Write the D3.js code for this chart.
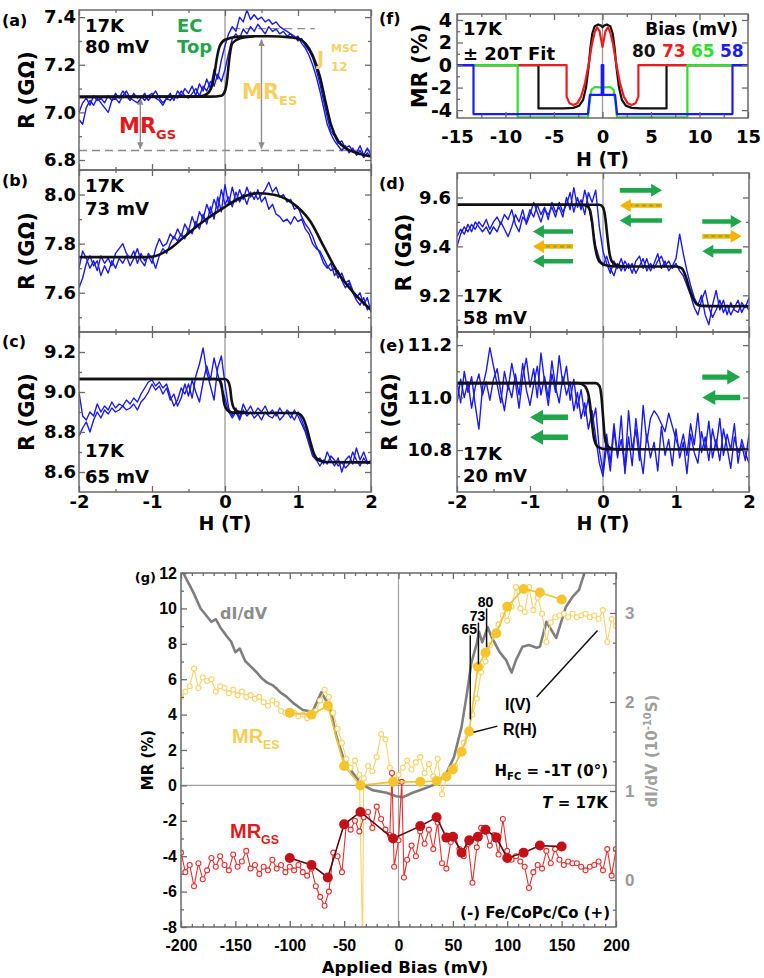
<!DOCTYPE html>
<html><head><meta charset="utf-8">
<script src="https://cdn.jsdelivr.net/npm/d3@7/dist/d3.min.js"></script>
<style>html,body{margin:0;padding:0;background:#fff;} svg{display:block}</style>
</head><body>
<script>
// ================= DATA =================
// field grid for R(H) sweeps (T)
const hGrid = d3.range(81).map(i => +(-2 + i * 0.05).toFixed(2));
const hTicks = [-2, -1, 0, 1, 2];
const hMinor = [-1.5, -0.5, 0.5, 1.5];

// (a) 17K 80 mV
const rA1 = [6.97,6.95,7.02,7.05,7.03,7.06,7.04,7.02,7.00,7.05,
 7.08,7.06,7.09,7.07,7.05,7.08,7.06,7.07,7.05,7.07,
 7.08,7.06,7.05,7.03,7.06,7.08,7.05,7.09,7.07,7.10,
 7.08,7.11,7.07,7.12,7.09,7.14,7.10,7.18,7.14,7.22,
 7.28,7.33,7.36,7.34,7.40,7.38,7.43,7.39,7.41,7.39,
 7.40,7.38,7.39,7.37,7.38,7.36,7.35,7.34,7.33,7.32,
 7.30,7.31,7.28,7.26,7.23,7.18,7.12,7.05,6.98,6.92,
 6.90,6.87,6.88,6.85,6.86,6.84,6.83,6.86,6.82,6.85,
 6.82];
const rA2 = [7.00,7.04,7.06,7.03,7.07,7.05,7.06,7.04,7.07,7.05,
 7.06,7.04,7.07,7.09,7.06,7.05,7.04,7.06,7.08,7.05,
 7.07,7.09,7.06,7.04,7.06,7.05,7.07,7.06,7.09,7.07,
 7.06,7.08,7.10,7.07,7.11,7.09,7.13,7.11,7.16,7.13,
 7.18,7.25,7.31,7.33,7.31,7.35,7.33,7.36,7.34,7.37,
 7.35,7.33,7.36,7.34,7.35,7.33,7.34,7.32,7.33,7.31,
 7.32,7.29,7.27,7.24,7.20,7.15,7.09,7.02,6.95,6.91,
 6.88,6.86,6.84,6.86,6.83,6.85,6.82,6.84,6.81,6.83,
 6.81];
const fitA1 = [[-2,7.065],[-0.5,7.066],[-0.3,7.07],[-0.22,7.085],[-0.17,7.12],[-0.14,7.17],[-0.11,7.23],[-0.07,7.28],[0.0,7.305],[0.2,7.318],[0.6,7.32],[0.9,7.315],[1.0,7.31],[1.1,7.29],[1.2,7.24],[1.3,7.15],[1.38,7.04],[1.45,6.95],[1.55,6.88],[1.65,6.85],[1.8,6.83],[2.0,6.815]];
const fitA2 = [[-2,7.065],[-0.2,7.066],[-0.05,7.07],[0.0,7.09],[0.03,7.14],[0.05,7.2],[0.07,7.25],[0.1,7.29],[0.2,7.31],[0.4,7.32]];

// (b) 17K 73 mV
const rB1 = [7.70,7.77,7.74,7.70,7.73,7.69,7.75,7.72,7.74,7.71,
 7.76,7.78,7.80,7.76,7.74,7.77,7.72,7.76,7.73,7.75,
 7.72,7.78,7.82,7.79,7.80,7.84,7.82,7.86,7.83,7.88,
 7.85,7.91,7.87,7.93,7.90,7.96,7.92,7.98,7.94,8.02,
 7.96,7.99,7.95,8.01,7.97,8.00,7.96,8.01,7.98,8.02,
 7.97,7.99,7.94,7.96,7.92,7.91,7.89,7.90,7.88,7.91,
 7.89,7.90,7.86,7.84,7.80,7.78,7.77,7.74,7.71,7.69,
 7.70,7.66,7.68,7.64,7.65,7.61,7.58,7.60,7.55,7.58,
 7.52];
const rB2 = [7.62,7.66,7.72,7.75,7.71,7.73,7.67,7.71,7.68,7.73,
 7.70,7.74,7.72,7.75,7.71,7.74,7.78,7.73,7.71,7.76,
 7.74,7.70,7.75,7.78,7.76,7.80,7.83,7.81,7.84,7.82,
 7.86,7.84,7.89,7.86,7.92,7.88,7.95,7.90,7.99,7.93,
 8.04,7.96,8.03,7.97,8.02,7.98,8.03,7.99,8.01,7.98,
 8.00,8.02,8.05,8.01,8.03,7.99,8.00,7.97,7.98,7.94,
 7.95,7.91,7.88,7.86,7.83,7.79,7.76,7.72,7.70,7.72,
 7.67,7.69,7.65,7.62,7.64,7.60,7.57,7.55,7.58,7.53,
 7.55];
const fitB = [[-2,7.745],[-1.1,7.745],[-0.95,7.75],[-0.75,7.78],[-0.55,7.83],[-0.3,7.89],[0,7.95],[0.2,7.985],[0.44,8.005],[0.65,8.0],[0.9,7.97],[1.17,7.89],[1.35,7.79],[1.53,7.69],[1.76,7.6],[2.0,7.53]];

// (c) 17K 65 mV
const rC1 = [9.00,8.88,8.86,8.90,8.88,8.94,8.90,8.93,8.91,8.95,
 8.92,8.94,8.93,8.96,8.94,8.97,8.95,8.99,9.02,9.05,
 9.06,9.03,9.05,9.02,9.04,8.98,8.93,8.96,9.02,8.99,
 9.04,8.97,9.08,9.14,9.22,9.10,9.03,8.96,9.12,9.18,
 9.04,8.92,8.88,8.92,8.87,8.94,8.90,8.93,8.89,8.92,
 8.90,8.93,8.89,8.91,8.88,8.92,8.89,8.90,8.87,8.91,
 8.88,8.84,8.80,8.74,8.68,8.66,8.67,8.64,8.70,8.66,
 8.63,8.67,8.60,8.66,8.68,8.64,8.72,8.66,8.70,8.65,
 8.64];
const rC2 = [8.78,8.82,8.85,8.80,8.86,8.90,8.87,8.91,8.89,8.92,
 8.90,8.91,8.93,8.91,8.92,8.94,8.91,8.95,8.97,9.00,
 9.04,9.01,9.03,8.99,9.02,8.96,8.99,8.93,8.97,9.04,
 8.98,9.06,9.00,8.95,9.05,9.13,9.06,9.17,9.09,9.02,
 8.97,8.90,8.87,8.90,8.86,8.91,8.88,8.90,8.87,8.89,
 8.86,8.90,8.88,8.87,8.90,8.86,8.88,8.91,8.89,8.86,
 8.90,8.86,8.81,8.76,8.70,8.66,8.63,8.66,8.64,8.68,
 8.66,8.63,8.65,8.62,8.64,8.70,8.66,8.63,8.67,8.64,
 8.66];
const fitC1 = [[-2,9.065],[-0.15,9.065],[-0.08,9.06],[-0.05,9.04],[-0.03,8.99],[-0.01,8.94],[0.03,8.91],[0.1,8.897],[0.3,8.895],[0.95,8.895],[1.02,8.89],[1.07,8.87],[1.12,8.82],[1.17,8.75],[1.22,8.69],[1.28,8.66],[1.38,8.65],[2,8.648]];
const fitC2 = [[-2,9.065],[0.0,9.065],[0.04,9.055],[0.07,9.02],[0.09,8.96],[0.12,8.92],[0.17,8.903],[0.3,8.896]];

// (d) 17K 58 mV
const rD1 = [9.40,9.45,9.48,9.46,9.49,9.47,9.50,9.48,9.51,9.47,
 9.50,9.52,9.49,9.53,9.51,9.55,9.49,9.46,9.52,9.50,
 9.55,9.52,9.57,9.53,9.56,9.51,9.58,9.54,9.56,9.52,
 9.60,9.55,9.64,9.56,9.59,9.53,9.62,9.58,9.63,9.48,
 9.38,9.33,9.29,9.34,9.31,9.35,9.30,9.33,9.29,9.34,
 9.36,9.31,9.35,9.30,9.33,9.37,9.31,9.34,9.30,9.32,
 9.35,9.45,9.37,9.30,9.24,9.19,9.16,9.20,9.12,9.08,
 9.16,9.22,9.14,9.18,9.12,9.17,9.14,9.13,9.17,9.15,
 9.19];
const rD2 = [9.44,9.47,9.45,9.49,9.46,9.50,9.48,9.46,9.48,9.45,
 9.48,9.46,9.50,9.47,9.44,9.48,9.53,9.50,9.55,9.49,
 9.53,9.58,9.54,9.50,9.55,9.53,9.56,9.52,9.58,9.54,
 9.57,9.62,9.54,9.60,9.55,9.63,9.57,9.49,9.40,9.35,
 9.32,9.36,9.31,9.28,9.33,9.30,9.34,9.31,9.33,9.29,
 9.32,9.35,9.30,9.33,9.31,9.34,9.36,9.32,9.34,9.31,
 9.33,9.30,9.28,9.24,9.20,9.15,9.12,9.18,9.22,9.15,
 9.11,9.14,9.18,9.13,9.16,9.12,9.15,9.18,9.13,9.16,
 9.14];
const fitD1 = [[-2,9.57],[-0.3,9.57],[-0.22,9.565],[-0.18,9.55],[-0.15,9.5],[-0.12,9.42],[-0.09,9.37],[-0.04,9.335],[0.05,9.322],[0.2,9.318],[1.0,9.318],[1.08,9.31],[1.13,9.28],[1.18,9.23],[1.23,9.19],[1.28,9.165],[1.35,9.157],[2,9.155]];
const fitD2 = [[-2,9.57],[-0.05,9.57],[0.0,9.56],[0.03,9.52],[0.06,9.44],[0.09,9.37],[0.13,9.335],[0.2,9.322],[0.3,9.318]];

// (e) 17K 20 mV
const rE1 = [11.06,10.98,11.10,11.02,11.08,10.97,10.88,11.04,11.10,11.19,
 11.12,11.05,10.98,11.10,11.03,11.13,11.06,10.96,11.08,11.15,
 11.04,11.11,11.00,11.17,11.06,10.97,11.09,11.02,11.16,11.05,
 11.12,10.99,11.07,10.96,11.03,10.93,11.00,10.90,10.96,10.80,
 10.72,10.86,10.75,10.90,10.78,10.84,10.73,10.95,10.80,10.88,
 10.76,10.97,10.83,10.92,10.95,10.93,10.90,10.87,10.94,10.89,
 10.84,10.80,10.86,10.78,10.90,10.82,10.94,10.79,10.85,10.76,
 10.88,10.81,10.92,10.78,10.86,10.80,10.90,10.75,10.84,10.79,
 10.75];
const rE2 = [10.98,11.07,11.00,11.06,10.96,11.04,11.09,11.01,11.06,10.99,
 11.07,11.11,11.02,10.95,11.05,11.00,11.09,11.01,11.13,11.03,
 10.97,11.05,11.12,11.01,11.08,11.00,11.14,11.04,10.98,11.08,
 11.01,11.06,10.95,11.02,10.92,10.98,10.88,10.95,10.85,10.75,
 10.70,10.82,10.72,10.88,10.77,10.93,10.71,10.85,10.74,10.92,
 10.80,10.71,10.86,10.77,10.83,10.72,10.89,10.78,10.84,10.74,
 10.88,10.77,10.83,10.71,10.86,10.79,10.75,10.87,10.80,10.91,
 10.77,10.84,10.76,10.88,10.81,10.73,10.85,10.79,10.82,10.76,
 10.86];
const fitE1 = [[-2,11.055],[-0.35,11.055],[-0.28,11.05],[-0.22,11.03],[-0.18,10.98],[-0.15,10.9],[-0.12,10.84],[-0.07,10.812],[0.05,10.803],[2,10.802]];
const fitE2 = [[-2,11.055],[-0.1,11.055],[-0.05,11.045],[-0.02,11.0],[0.0,10.93],[0.02,10.86],[0.05,10.82],[0.12,10.805],[0.3,10.802]];

// (f) MR fits vs H (T) for biases 80, 73, 65, 58 mV
const fBias = ["80", "73", "65", "58"];
const fColors = ["#111111", "#ee1c1c", "#2ee02e", "#1a1aff"];
const mrFit80 = [[-15,0],[-6.6,0],[-6.6,-3.85],[-4,-3.85],[-3,-3.8],[-2.4,-3.6],[-2.0,-3.1],[-1.7,-2.0],[-1.45,-0.3],[-1.25,1.5],[-1.05,2.8],[-0.8,3.45],[-0.45,3.6],[-0.15,3.5],[0,3.35],[0.15,3.5],[0.45,3.6],[0.8,3.45],[1.05,2.8],[1.25,1.5],[1.45,-0.3],[1.7,-2.0],[2.0,-3.1],[2.4,-3.6],[3,-3.8],[4,-3.85],[6.6,-3.85],[6.6,0],[15,0]];
const mrFit73 = [[-15,0],[-3.7,0],[-3.7,-2.8],[-3.4,-3.4],[-3.0,-3.55],[-2.6,-3.4],[-2.2,-2.8],[-1.8,-1.6],[-1.4,0.2],[-1.1,1.8],[-0.8,2.9],[-0.55,3.35],[-0.3,3.0],[0,1.6],[0.3,3.0],[0.55,3.35],[0.8,2.9],[1.1,1.8],[1.4,0.2],[1.8,-1.6],[2.2,-2.8],[2.6,-3.4],[3.0,-3.55],[3.4,-3.4],[3.7,-2.8],[3.7,0],[15,0]];
const mrFit65 = [[-15,0],[-8.75,0],[-8.75,-4.65],[-1.5,-4.65],[-1.35,-3.5],[-1.15,-2.2],[-0.8,-1.95],[0,-2.0],[0.8,-1.95],[1.15,-2.2],[1.35,-3.5],[1.5,-4.65],[8.75,-4.65],[8.75,0],[15,0]];
const mrFit58 = [[-15,0],[-13.3,0],[-13.3,-4.35],[-1.5,-4.35],[-1.3,-2.65],[-0.08,-2.65],[-0.08,0],[0.08,0],[0.08,-2.65],[1.3,-2.65],[1.5,-4.35],[13.4,-4.35],[13.4,0],[15,0]];
const fXTicks = [-15,-10,-5,0,5,10,15];
const fXMinor = [-12.5,-7.5,-2.5,2.5,7.5,12.5];
const fYTicks = [-4,-2,0,2,4];
const fYMinor = [-3,-1,1,3];

// (g) MR vs applied bias (mV)
const biasTicks = [-200,-150,-100,-50,0,50,100,150,200];
const biasMinor = d3.range(-190, 200, 10).filter(v => v % 50 !== 0);
const mrTicks = [-8,-6,-4,-2,0,2,4,6,8,10,12];
const mrMinor = [-7,-5,-3,-1,1,3,5,7,9,11];
const didvTicks = [0,1,2,3];
const didvMinor = [-1/3,1/3,2/3,4/3,5/3,7/3,8/3,10/3];
const didv = [[-200,3.50],[-195,3.38],[-189,3.24],[-182,3.05],[-176,2.96],[-172,2.90],[-168,2.93],[-164,2.84],[-158,2.74],[-154,2.68],[-150,2.56],[-146,2.60],[-141,2.46],[-136,2.40],[-131,2.34],[-126,2.27],[-121,2.22],[-116,2.19],[-112,2.15],[-109,2.11],[-103,2.06],[-97,1.99],[-88,1.91],[-79,1.89],[-71,2.11],[-63,1.94],[-57,1.61],[-51,1.38],[-42,1.20],[-33,1.07],[-24,1.01],[-11,0.98],[-2,0.94],[4,0.93],[13,0.98],[22,1.02],[35,1.08],[44,1.20],[51,1.38],[58,1.72],[63,2.10],[67,2.44],[72,2.66],[74,2.79],[77,2.67],[82,2.84],[86,2.72],[93,2.56],[99,2.47],[104,2.33],[108,2.47],[114,2.62],[120,2.64],[127,2.61],[130,2.62],[136,2.90],[145,2.72],[154,3.07],[160,3.18],[166,3.26],[171,3.45],[176,3.65]];
const esOpen = [[-200,5.0],[-196,5.3],[-192,5.6],[-188,6.6],[-184,5.5],[-180,6.1],[-176,5.9],[-172,6.0],[-168,5.3],[-164,5.6],[-160,5.5],[-156,5.2],[-152,5.4],[-148,5.1],[-144,5.3],[-140,5.0],[-136,5.1],[-132,4.9],[-128,5.0],[-124,4.7],[-120,4.5],[-116,4.8],[-112,4.6],[-108,4.2],[-104,4.1],[-100,4.0],[-96,4.1],[-92,3.9],[-88,4.0],[-84,3.8],[-80,4.0],[-76,4.2],[-72,4.8],[-68,5.4],[-64,5.0],[-60,4.1],[-56,3.2],[-52,2.4],[-48,1.5],[-44,1.0],[-40,1.4],[-36,0.6],[-33,-9],[-32,0.4],[-28,1.1],[-24,0.8],[-20,1.6],[-16,2.9],[-12,2.6],[-8,1.0],[-4,0.2],[0,0.6],[4,1.0],[8,1.4],[12,0.9],[16,1.3],[20,1.6],[24,0.7],[28,1.2],[32,0.5],[36,1.5],[40,-0.5],[44,0.4],[48,0.9],[52,1.1],[56,1.8],[60,2.4],[64,3.1],[68,4.0],[72,4.9],[76,6.4],[80,7.0],[84,7.9],[88,8.5],[92,9.1],[96,9.6],[100,9.3],[104,10.1],[108,11.2],[112,10.0],[116,9.8],[120,11.2],[124,9.9],[128,10.6],[132,9.7],[136,8.1],[140,9.2],[144,9.5],[148,9.6],[152,9.7],[156,9.5],[160,9.7],[164,9.5],[168,9.6],[172,9.7],[176,9.5],[180,9.6],[184,9.4],[188,9.9],[192,8.1],[196,9.4],[200,9.0]];
const gsOpen = [[-200,-3.8],[-196,-4.9],[-192,-4.5],[-188,-5.7],[-184,-4.4],[-180,-5.3],[-176,-4.8],[-172,-4.1],[-168,-4.6],[-164,-4.0],[-160,-4.5],[-156,-4.8],[-152,-3.9],[-148,-4.6],[-144,-4.3],[-140,-3.7],[-136,-4.7],[-132,-4.5],[-128,-5.0],[-124,-4.6],[-120,-4.8],[-116,-4.2],[-112,-4.7],[-108,-4.5],[-104,-4.9],[-100,-4.6],[-96,-4.8],[-92,-4.5],[-88,-4.9],[-84,-5.1],[-80,-4.7],[-76,-5.7],[-72,-6.3],[-68,-6.8],[-64,-6.0],[-60,-3.8],[-56,-4.0],[-52,-4.9],[-48,-2.2],[-44,-2.5],[-40,-2.0],[-36,-2.6],[-32,-1.8],[-28,-1.5],[-24,-2.4],[-20,-1.2],[-16,-1.9],[-12,-2.5],[-8,-2.8],[-6,0.7],[-4,-4.6],[0,-3.1],[3,0.2],[5,-5.2],[8,-4.2],[12,-3.4],[16,-4.0],[20,-2.6],[24,-3.3],[28,-2.5],[32,-3.6],[36,-2.1],[40,-4.4],[44,-4.7],[48,-3.2],[52,-2.9],[56,-3.6],[60,-4.0],[64,-3.3],[68,-5.5],[72,-3.5],[76,-2.4],[80,-2.6],[84,-3.4],[88,-2.8],[92,-3.9],[96,-1.9],[100,-3.7],[104,-4.2],[108,-4.0],[112,-4.3],[116,-4.6],[120,-5.8],[124,-4.9],[128,-4.5],[132,-4.7],[136,-3.7],[140,-4.4],[144,-3.6],[148,-4.2],[152,-4.5],[156,-4.3],[160,-4.4],[164,-4.4],[168,-4.6],[172,-4.8],[176,-4.6],[180,-4.5],[184,-4.3],[188,-4.8],[192,-3.6],[196,-5.1],[200,-3.6]];
const rhBias = [-100,-80,-65,-50,-35,-5,20,35,44,50,58,65,73,80,90,100,115,130,150];
const esFilled = [4.1,4.0,4.5,1.1,0.0,0.2,0.2,0.25,0.5,0.9,1.9,3.05,6.7,7.5,8.6,10.1,11.1,10.9,10.5];
const gsFilled = [-4.1,-4.5,-5.2,-2.2,-1.5,-3.0,-2.3,-1.8,-2.95,-2.9,-3.8,-3.1,-2.9,-2.5,-2.95,-4.1,-3.8,-3.4,-3.45];

// ================= DRAWING =================
const FD = '"DejaVu Sans", Verdana, sans-serif';
const FL = '"Liberation Sans", Arial, sans-serif';
const AXC = '#6a6a6a';
const BLUE = '#1b1bef';
const GREEN = '#1fa64a';
const ORANGE = '#f6b400';
const YEL = '#f5d163';
const RED = '#e3191c';
const svg = d3.select('body').append('svg').attr('width', 764).attr('height', 978);
const defs = svg.append('defs');
defs.append('marker').attr('id', 'ah').attr('viewBox', '0 0 10 10').attr('refX', 9).attr('refY', 5)
  .attr('markerWidth', 5).attr('markerHeight', 5).attr('orient', 'auto-start-reverse')
  .append('path').attr('d', 'M0,0.5L10,5L0,9.5Z').attr('fill', '#8c8c8c');

function styleAxis(sel, fs, ff, fill) {
  sel.attr('font-size', null).attr('font-family', null);
  sel.select('.domain').remove();
  sel.selectAll('.tick line').attr('stroke', AXC).attr('stroke-width', 1.3);
  sel.selectAll('.tick text').attr('font-size', fs).attr('font-family', ff)
     .attr('font-weight', 'bold').attr('fill', fill || '#000');
}
function txt(g, x, y, s, o = {}) {
  const t = g.append('text').attr('x', x).attr('y', y)
    .attr('font-family', o.ff || FD).attr('font-weight', 'bold')
    .attr('font-size', o.fs || 18).attr('fill', o.fill || '#000');
  if (o.anchor) t.attr('text-anchor', o.anchor);
  if (s !== null) t.text(s);
  return t;
}
function mrLabel(g, x, y, sub, fill, fs, ff) {
  const t = txt(g, x, y, 'MR', { fill, fs, ff });
  t.append('tspan').attr('dy', fs * 0.28).attr('font-size', fs * 0.62).text(sub);
}
function clip(id, x0, y0, x1, y1) {
  defs.append('clipPath').attr('id', id).append('rect')
    .attr('x', x0).attr('y', y0).attr('width', x1 - x0).attr('height', y1 - y0);
  return `url(#${id})`;
}
function harrow(g, xT, xH, y, color, dashed, big) {
  const dir = Math.sign(xH - xT);
  const hl = big ? 13 : 11, hw = big ? 7.5 : 6.5, sw = big ? 2.7 : 2.3;
  const xb = xH - dir * hl;
  g.append('path').attr('d',
    `M${xT},${y - sw}L${xb},${y - sw}L${xb},${y - hw}L${xH},${y}L${xb},${y + hw}L${xb},${y + sw}L${xT},${y + sw}Z`)
    .attr('fill', color);
  if (dashed) g.append('line').attr('x1', xT + dir * 2).attr('x2', xb).attr('y1', y).attr('y2', y)
    .attr('stroke', '#7fae3a').attr('stroke-width', 2).attr('stroke-dasharray', '4,3');
}

function rPanel(p) {
  const x = d3.scaleLinear().domain([-2, 2]).range([p.x0, p.x1]);
  const y = d3.scaleLinear().domain(p.yDom).range([p.y1, p.y0]);
  const g = svg.append('g');
  g.append('line').attr('x1', x(0)).attr('x2', x(0)).attr('y1', p.y0).attr('y2', p.y1)
    .attr('stroke', '#9a9a9a').attr('stroke-width', 1.3);
  const dg = g.append('g').attr('clip-path', clip('clip-' + p.id, p.x0, p.y0, p.x1, p.y1));
  if (p.under) p.under(dg, x, y);
  const sl = d3.line().x((d, i) => x(hGrid[i])).y(d => y(d));
  p.sweeps.forEach(s => dg.append('path').attr('d', sl(s)).attr('fill', 'none')
    .attr('stroke', BLUE).attr('stroke-width', 1.4).attr('stroke-linejoin', 'round'));
  const fl = d3.line().x(d => x(d[0])).y(d => y(d[1])).curve(d3.curveMonotoneX);
  p.fits.forEach(f => dg.append('path').attr('d', fl(f)).attr('fill', 'none')
    .attr('stroke', '#111').attr('stroke-width', 2.6));
  // axes (ticks inward)
  g.append('g').attr('transform', `translate(${p.x0},0)`)
    .call(d3.axisLeft(y).tickValues(p.yTicks).tickFormat(d => d.toFixed(1)).tickSize(-6).tickPadding(p.pad))
    .call(s => styleAxis(s, 18, FD));
  g.append('g').attr('transform', `translate(${p.x0},0)`)
    .call(d3.axisLeft(y).tickValues(p.yMinor).tickFormat('').tickSize(-3)).call(s => styleAxis(s, 18, FD));
  g.append('g').attr('transform', `translate(${p.x1},0)`)
    .call(d3.axisRight(y).tickValues(p.yTicks).tickFormat('').tickSize(-6)).call(s => styleAxis(s, 18, FD));
  g.append('g').attr('transform', `translate(${p.x1},0)`)
    .call(d3.axisRight(y).tickValues(p.yMinor).tickFormat('').tickSize(-3)).call(s => styleAxis(s, 18, FD));
  g.append('g').attr('transform', `translate(0,${p.y1})`)
    .call(d3.axisBottom(x).tickValues(hTicks).tickFormat(p.xLab ? (d => String(d)) : '').tickSize(-6).tickPadding(3))
    .call(s => styleAxis(s, 18, FD));
  g.append('g').attr('transform', `translate(0,${p.y1})`)
    .call(d3.axisBottom(x).tickValues(hMinor).tickFormat('').tickSize(-3)).call(s => styleAxis(s, 18, FD));
  g.append('g').attr('transform', `translate(0,${p.y0})`)
    .call(d3.axisTop(x).tickValues(hTicks).tickFormat('').tickSize(-6)).call(s => styleAxis(s, 18, FD));
  g.append('g').attr('transform', `translate(0,${p.y0})`)
    .call(d3.axisTop(x).tickValues(hMinor).tickFormat('').tickSize(-3)).call(s => styleAxis(s, 18, FD));
  g.append('rect').attr('x', p.x0).attr('y', p.y0).attr('width', p.x1 - p.x0).attr('height', p.y1 - p.y0)
    .attr('fill', 'none').attr('stroke', AXC).attr('stroke-width', 1.5);
  // labels
  const my = (p.y0 + p.y1) / 2;
  txt(g, 0, 0, 'R (GΩ)', { fs: 21 }).attr('text-anchor', 'middle')
    .attr('transform', `translate(${p.titleX},${my}) rotate(-90)`);
  txt(g, p.labX, p.labY, `(${p.id})`, { fs: 16 });
  txt(g, p.tx, p.t1y, '17K', { fs: 18 });
  txt(g, p.tx, p.t2y, p.bias, { fs: 18 });
  if (p.xLab) txt(g, (p.x0 + p.x1) / 2, 530, 'H (T)', { fs: 19, anchor: 'middle' });
  if (p.over) p.over(g, x, y);
}

// (a)
rPanel({ id: 'a', x0: 79, x1: 371, y0: 10, y1: 170, yDom: [6.758, 7.43], yTicks: [6.8, 7.0, 7.2, 7.4], yMinor: [6.9, 7.1, 7.3],
  sweeps: [rA1, rA2], fits: [fitA1, fitA2], pad: 3, titleX: 34, labX: 2, labY: 26, tx: 85, t1y: 32, t2y: 53, bias: '80 mV',
  under: (g, x, y) => {
    g.append('line').attr('x1', x(-2)).attr('x2', x(2)).attr('y1', y(6.84)).attr('y2', y(6.84))
      .attr('stroke', '#8c8c8c').attr('stroke-width', 1.3).attr('stroke-dasharray', '8,5');
    g.append('line').attr('x1', x(0.1)).attr('x2', x(1.23)).attr('y1', y(7.352)).attr('y2', y(7.352))
      .attr('stroke', '#8c8c8c').attr('stroke-width', 1.3).attr('stroke-dasharray', '8,5');
    g.append('line').attr('x1', x(-1.16)).attr('x2', x(-1.16)).attr('y1', y(7.058)).attr('y2', y(6.848))
      .attr('stroke', '#8c8c8c').attr('stroke-width', 1.4).attr('marker-start', 'url(#ah)').attr('marker-end', 'url(#ah)');
    g.append('line').attr('x1', x(0.5)).attr('x2', x(0.5)).attr('y1', y(7.305)).attr('y2', y(6.848))
      .attr('stroke', '#8c8c8c').attr('stroke-width', 1.4).attr('marker-start', 'url(#ah)').attr('marker-end', 'url(#ah)');
  },
  over: (g, x, y) => {
    txt(g, 177, 32, 'EC', { fs: 18, fill: GREEN });
    txt(g, 177, 53, 'Top', { fs: 18, fill: GREEN });
    txt(g, 317, 65, 'J', { fs: 19, fill: YEL });
    txt(g, 331, 52, 'MSC', { fs: 11, fill: YEL });
    txt(g, 331, 71, '12', { fs: 12, fill: YEL });
    mrLabel(g, 242, 99, 'ES', YEL, 21, FD);
    mrLabel(g, 119, 133, 'GS', RED, 21, FD);
  }
});
// (b)
rPanel({ id: 'b', x0: 79, x1: 371, y0: 170, y1: 332, yDom: [7.44, 8.10], yTicks: [7.6, 7.8, 8.0], yMinor: [7.5, 7.7, 7.9, 8.1],
  sweeps: [rB1, rB2], fits: [fitB], pad: 3, titleX: 34, labX: 2, labY: 186, tx: 85, t1y: 192, t2y: 215, bias: '73 mV' });
// (c)
rPanel({ id: 'c', x0: 79, x1: 371, y0: 332, y1: 492, yDom: [8.5, 9.3], yTicks: [8.6, 8.8, 9.0, 9.2], yMinor: [8.7, 8.9, 9.1],
  sweeps: [rC1, rC2], fits: [fitC1, fitC2], pad: 3, titleX: 34, labX: 2, labY: 347, tx: 85, t1y: 457, t2y: 483, bias: '65 mV', xLab: true });
// (d)
rPanel({ id: 'd', x0: 457, x1: 749, y0: 173, y1: 332, yDom: [9.05, 9.70], yTicks: [9.2, 9.4, 9.6], yMinor: [9.1, 9.3, 9.5],
  sweeps: [rD1, rD2], fits: [fitD1, fitD2], pad: 6, titleX: 411, labX: 379, labY: 189, tx: 463, t1y: 302, t2y: 324, bias: '58 mV',
  over: (g, x, y) => {
    harrow(g, x(-0.41), x(-0.96), y(9.461), GREEN);
    harrow(g, x(-0.41), x(-0.96), y(9.40), ORANGE, true);
    harrow(g, x(-0.41), x(-0.96), y(9.339), GREEN);
    harrow(g, x(0.23), x(0.81), y(9.629), GREEN);
    harrow(g, x(0.81), x(0.23), y(9.567), ORANGE, true);
    harrow(g, x(0.81), x(0.23), y(9.506), GREEN);
    harrow(g, x(1.36), x(1.9), y(9.502), GREEN);
    harrow(g, x(1.36), x(1.9), y(9.441), ORANGE, true);
    harrow(g, x(1.9), x(1.36), y(9.380), GREEN);
  }
});
// (e)
rPanel({ id: 'e', x0: 457, x1: 749, y0: 332, y1: 492, yDom: [10.64, 11.25], yTicks: [10.8, 11.0, 11.2], yMinor: [10.7, 10.9, 11.1],
  sweeps: [rE1, rE2], fits: [fitE1, fitE2], pad: 5, titleX: 397, labX: 379, labY: 351, tx: 463, t1y: 460, t2y: 482, bias: '20 mV', xLab: true,
  over: (g, x, y) => {
    harrow(g, x(-0.48), x(-1.0), y(10.925), GREEN, false, true);
    harrow(g, x(-0.48), x(-1.0), y(10.849), GREEN, false, true);
    harrow(g, x(1.36), x(1.88), y(11.078), GREEN, false, true);
    harrow(g, x(1.88), x(1.36), y(11.0), GREEN, false, true);
  }
});

// (f)
(function () {
  const x0 = 457, x1 = 748, y0 = 14, y1 = 118;
  const x = d3.scaleLinear().domain([-15, 15]).range([x0, x1]);
  const y = d3.scaleLinear().domain([-4.7, 4.53]).range([y1, y0]);
  const g = svg.append('g');
  g.append('line').attr('x1', x(0)).attr('x2', x(0)).attr('y1', y0).attr('y2', y1).attr('stroke', '#9a9a9a').attr('stroke-width', 1.3);
  const dg = g.append('g').attr('clip-path', clip('clip-f', x0, y0, x1, y1));
  const ln = d3.line().x(d => x(d[0])).y(d => y(d[1]));
  [mrFit80, mrFit73, mrFit65, mrFit58].forEach((c, i) => dg.append('path').attr('d', ln(c)).attr('fill', 'none')
    .attr('stroke', fColors[i]).attr('stroke-width', 2.2).attr('stroke-linejoin', 'round'));
  g.append('g').attr('transform', `translate(${x0},0)`)
    .call(d3.axisLeft(y).tickValues(fYTicks).tickFormat(d => String(d)).tickSize(-6).tickPadding(5)).call(s => styleAxis(s, 19, FD));
  g.append('g').attr('transform', `translate(${x0},0)`)
    .call(d3.axisLeft(y).tickValues(fYMinor).tickFormat('').tickSize(-3)).call(s => styleAxis(s, 19, FD));
  g.append('g').attr('transform', `translate(${x1},0)`)
    .call(d3.axisRight(y).tickValues(fYTicks).tickFormat('').tickSize(-6)).call(s => styleAxis(s, 19, FD));
  g.append('g').attr('transform', `translate(0,${y1})`)
    .call(d3.axisBottom(x).tickValues(fXTicks).tickFormat(d => String(d)).tickSize(-6).tickPadding(12)).call(s => styleAxis(s, 18, FD));
  g.append('g').attr('transform', `translate(0,${y1})`)
    .call(d3.axisBottom(x).tickValues(fXMinor).tickFormat('').tickSize(-3)).call(s => styleAxis(s, 18, FD));
  g.append('g').attr('transform', `translate(0,${y0})`)
    .call(d3.axisTop(x).tickValues(fXTicks).tickFormat('').tickSize(-6)).call(s => styleAxis(s, 18, FD));
  g.append('g').attr('transform', `translate(0,${y0})`)
    .call(d3.axisTop(x).tickValues(fXMinor).tickFormat('').tickSize(-3)).call(s => styleAxis(s, 18, FD));
  g.append('rect').attr('x', x0).attr('y', y0).attr('width', x1 - x0).attr('height', y1 - y0)
    .attr('fill', 'none').attr('stroke', AXC).attr('stroke-width', 1.5);
  txt(g, 0, 0, 'MR (%)', { fs: 21 }).attr('text-anchor', 'middle').attr('transform', `translate(427,${(y0 + y1) / 2}) rotate(-90)`);
  txt(g, (x0 + x1) / 2, 166, 'H (T)', { fs: 19, anchor: 'middle' });
  txt(g, 379, 24, '(f)', { fs: 16 });
  txt(g, 463, 35, '17K', { fs: 18 });
  txt(g, 463, 60, '± 20T Fit', { fs: 18 });
  txt(g, 738, 35, 'Bias (mV)', { fs: 17, anchor: 'end' });
  const bx = [632, 662, 691, 720];
  fBias.forEach((b, i) => txt(g, bx[i], 57, b, { fs: 17, fill: fColors[i] }));
})();

// (g)
(function () {
  const x0 = 181, x1 = 616, y0 = 573, y1 = 927;
  const x = d3.scaleLinear().domain([-200, 200]).range([x0, x1]);
  const y = d3.scaleLinear().domain([-8, 12]).range([y1, y0]);
  const yR = d3.scaleLinear().domain([-0.528, 3.449]).range([y1, y0]);
  const g = svg.append('g');
  g.append('line').attr('x1', x(0)).attr('x2', x(0)).attr('y1', y0).attr('y2', y1).attr('stroke', '#a0a0a0').attr('stroke-width', 1.2);
  g.append('line').attr('x1', x0).attr('x2', x1).attr('y1', y(0)).attr('y2', y(0)).attr('stroke', '#a0a0a0').attr('stroke-width', 1.2);
  const dg = g.append('g').attr('clip-path', clip('clip-g', x0, y0, x1, y1));
  dg.append('path').attr('d', d3.line().x(d => x(d[0])).y(d => yR(d[1]))(didv))
    .attr('fill', 'none').attr('stroke', '#7f7f7f').attr('stroke-width', 2.6).attr('stroke-linejoin', 'round');
  const lp = d3.line().x(d => x(d[0])).y(d => y(d[1]));
  function openSeries(data, col) {
    dg.append('path').attr('d', lp(data)).attr('fill', 'none').attr('stroke', col).attr('stroke-width', 1.1);
    dg.selectAll(null).data(data).enter().append('circle').attr('cx', d => x(d[0])).attr('cy', d => y(d[1]))
      .attr('r', 2.5).attr('fill', '#fff').attr('stroke', col).attr('stroke-width', 1.1);
  }
  openSeries(esOpen, '#f6d36a');
  openSeries(gsOpen, '#e83030');
  function filledSeries(vals, lineCol, fillCol) {
    const pts = rhBias.map((b, i) => [b, vals[i]]);
    dg.append('path').attr('d', lp(pts)).attr('fill', 'none').attr('stroke', lineCol).attr('stroke-width', 1.6);
    dg.selectAll(null).data(pts).enter().append('circle').attr('cx', d => x(d[0])).attr('cy', d => y(d[1]))
      .attr('r', 5).attr('fill', fillCol);
  }
  filledSeries(esFilled, '#f1c232', '#f6c52c');
  filledSeries(gsFilled, '#5c0c0c', '#c3111a');
  // axes
  g.append('g').attr('transform', `translate(${x0},0)`)
    .call(d3.axisLeft(y).tickValues(mrTicks).tickFormat(d => String(d)).tickSize(-6).tickPadding(4)).call(s => styleAxis(s, 16, FL));
  g.append('g').attr('transform', `translate(${x0},0)`)
    .call(d3.axisLeft(y).tickValues(mrMinor).tickFormat('').tickSize(-3)).call(s => styleAxis(s, 16, FL));
  g.append('g').attr('transform', `translate(${x1},0)`)
    .call(d3.axisRight(yR).tickValues(didvTicks).tickFormat(d => String(d)).tickSize(-6).tickPadding(9)).call(s => styleAxis(s, 17, FL, '#9a9a9a'));
  g.append('g').attr('transform', `translate(${x1},0)`)
    .call(d3.axisRight(yR).tickValues(didvMinor).tickFormat('').tickSize(-3)).call(s => styleAxis(s, 17, FL));
  g.append('g').attr('transform', `translate(0,${y1})`)
    .call(d3.axisBottom(x).tickValues(biasTicks).tickFormat(d => String(d)).tickSize(-6).tickPadding(13)).call(s => styleAxis(s, 16, FL));
  g.append('g').attr('transform', `translate(0,${y1})`)
    .call(d3.axisBottom(x).tickValues(biasMinor).tickFormat('').tickSize(-3)).call(s => styleAxis(s, 16, FL));
  g.append('g').attr('transform', `translate(0,${y0})`)
    .call(d3.axisTop(x).tickValues(biasTicks).tickFormat('').tickSize(-6)).call(s => styleAxis(s, 16, FL));
  g.append('g').attr('transform', `translate(0,${y0})`)
    .call(d3.axisTop(x).tickValues(biasMinor).tickFormat('').tickSize(-3)).call(s => styleAxis(s, 16, FL));
  g.append('rect').attr('x', x0).attr('y', y0).attr('width', x1 - x0).attr('height', y1 - y0)
    .attr('fill', 'none').attr('stroke', AXC).attr('stroke-width', 1.5);
  // titles
  txt(g, 405, 973, 'Applied Bias (mV)', { fs: 16.5, anchor: 'middle' });
  txt(g, 0, 0, 'MR (%)', { fs: 15 }).attr('text-anchor', 'middle').attr('transform', `translate(153,760) rotate(-90)`);
  const rt = txt(g, 0, 0, null, { fs: 15, fill: '#a0a0a0' }).attr('text-anchor', 'middle')
    .attr('transform', `translate(657,751) rotate(-90)`);
  rt.append('tspan').text('dI/dV (10');
  rt.append('tspan').attr('dy', -6).attr('font-size', 10).text('-10');
  rt.append('tspan').attr('dy', 6).text('S)');
  txt(g, 156, 582, '(g)', { fs: 13, anchor: 'end' });
  // annotations
  txt(g, 220, 619, 'dI/dV', { fs: 16, fill: '#8c8c8c' });
  mrLabel(g, 232, 743, 'ES', '#f5cf55', 20, FL);
  mrLabel(g, 230, 838, 'GS', RED, 20, FL);
  const bl = [[66, 8.47, 3.73, '65', 634], [73.5, 9.2, 6.84, '73', 621], [81, 10.0, 7.8, '80', 607]];
  bl.forEach(b => {
    g.append('line').attr('x1', x(b[0])).attr('x2', x(b[0])).attr('y1', y(b[1])).attr('y2', y(b[2]))
      .attr('stroke', '#111').attr('stroke-width', 1.5);
    txt(g, x(b[0]) - 1, b[4], b[3], { fs: 14, ff: FL, anchor: 'middle' });
  });
  g.append('line').attr('x1', x(127)).attr('y1', y(5.0)).attr('x2', x(183)).attr('y2', y(8.75)).attr('stroke', '#111').attr('stroke-width', 1.5);
  txt(g, 505, 710, 'I(V)', { fs: 16, ff: FL });
  g.append('line').attr('x1', x(69)).attr('y1', y(3.0)).attr('x2', x(91)).attr('y2', y(3.35)).attr('stroke', '#111').attr('stroke-width', 1.5);
  txt(g, 503, 735, 'R(H)', { fs: 16, ff: FL });
  const hf = txt(g, 608, 776, null, { fs: 15, anchor: 'end' });
  hf.append('tspan').text('H');
  hf.append('tspan').attr('dy', 4).attr('font-size', 10).text('FC');
  hf.append('tspan').attr('dy', -4).text(' = -1T (0°)');
  const tt = txt(g, 608, 808, null, { fs: 15, anchor: 'end' });
  tt.append('tspan').attr('font-style', 'italic').text('T');
  tt.append('tspan').text(' = 17K');
  txt(g, 610, 918, '(-) Fe/CoPc/Co (+)', { fs: 15, anchor: 'end' });
})();
</script>
</body></html>
